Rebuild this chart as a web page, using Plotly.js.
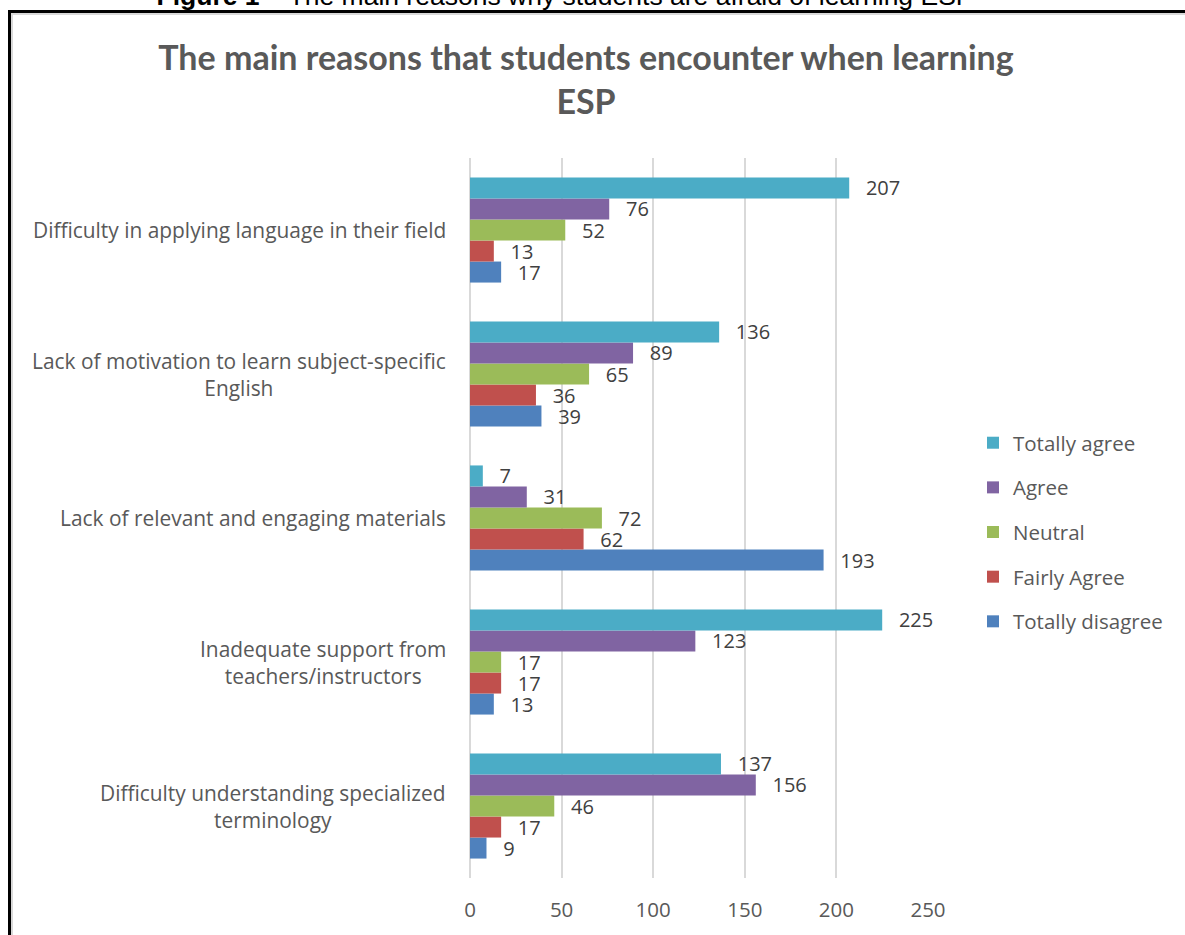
<!DOCTYPE html>
<html>
<head>
<meta charset="utf-8">
<script src="https://cdn.plot.ly/plotly-3.0.1.min.js"></script>
<style>
  html, body { margin:0; padding:0; background:#fff; overflow:hidden; }
  #caption { position:absolute; left:0; width:1130px; top:-17px; text-align:center;
             font-family:"Liberation Sans", Arial, sans-serif; font-size:26.5px; line-height:27px; color:#000; white-space:nowrap; }
  #frame { position:absolute; left:8px; top:10px; width:1300px; height:1100px;
           border-left:3px solid #000; border-top:3px solid #000; box-shadow: inset 2px 2px 0 #d9d9d9; }
  #chart { position:absolute; left:0; top:0; width:1185px; height:935px; }
</style>
</head>
<body>
<div id="caption"><b>Figure 1</b> – The main reasons why students are afraid of learning ESP</div>
<div id="frame"></div>
<div id="chart"></div>
<script>
// Categories, bottom to top
const categories = [
  "Difficulty understanding specialized<br>terminology",
  "Inadequate support from<br>teachers/instructors",
  "Lack of relevant and engaging materials",
  "Lack of motivation to learn subject-specific<br>English",
  "Difficulty in applying language in their field"
];
const seriesNames = ["Totally disagree", "Fairly Agree", "Neutral", "Agree", "Totally agree"];
const totallyDisagree = [9, 13, 193, 39, 17];
const fairlyAgree     = [17, 17, 62, 36, 13];
const neutral         = [46, 17, 72, 65, 52];
const agree           = [156, 123, 31, 89, 76];
const totallyAgree    = [137, 225, 7, 136, 207];
const xTicks = [0, 50, 100, 150, 200, 250];

const seriesValues = [totallyDisagree, fairlyAgree, neutral, agree, totallyAgree];
const colors = ["#4F81BD", "#C0504D", "#9BBB59", "#8064A2", "#4BACC6"];

const FONT = "'Open Sans', sans-serif";
const TFONT = "Lato, 'Open Sans', sans-serif";
const FS = 20.5;

const traces = seriesValues.map((vals, i) => ({
  type: "bar",
  orientation: "h",
  name: seriesNames[i],
  legendgroup: "g" + i,
  legendrank: 100 - i,
  x: vals,
  y: categories,
  marker: { color: colors[i], line: { width: 0 } },
  text: vals.map(v => "\u00a0\u00a0\u2009" + v),
  texttemplate: "%{text}",
  textposition: "outside",
  constraintext: "none",
  cliponaxis: false,
  textfont: { family: FONT, size: 20, color: "#404040" },
  hoverinfo: "x+name"
}));

const annotations = categories.map(c => ({
  xref: "paper", yref: "y", x: 0, y: c, xanchor: "right", yanchor: "middle",
  xshift: -22, text: c, showarrow: false, align: "center",
  font: { family: FONT, size: 20.9, color: "#595959" }
}));

const layout = {
  width: 1185, height: 935,
  margin: { l: 470, r: 257, t: 158, b: 57 },
  paper_bgcolor: "rgba(0,0,0,0)",
  plot_bgcolor: "rgba(0,0,0,0)",
  title: {
    text: "The main reasons that students encounter when learning<br>ESP",
    font: { family: TFONT, size: 34, color: "#595959", weight: "bold" },
    x: 586 / 1185, xref: "container", xanchor: "center",
    y: 1 - 70 / 935, yref: "container", yanchor: "top"
  },
  barmode: "group",
  bargap: 0.27,
  bargroupgap: 0,
  xaxis: {
    range: [0, 250], tickvals: xTicks, ticktext: xTicks.map(String),
    showgrid: true, gridcolor: "#D9D9D9", gridwidth: 2,
    zeroline: true, zerolinecolor: "#D9D9D9", zerolinewidth: 2,
    showline: false, ticks: "outside", ticklen: 13, tickcolor: "rgba(0,0,0,0)",
    tickfont: { family: FONT, size: FS, color: "#595959" },
    fixedrange: true
  },
  yaxis: {
    type: "category", categoryorder: "array", categoryarray: categories,
    showticklabels: false, showgrid: false, zeroline: false, showline: false, ticks: "",
    fixedrange: true
  },
  legend: {
    traceorder: "grouped", tracegroupgap: 15,
    xref: "container", x: 973 / 1185, xanchor: "left",
    y: 0.480, yanchor: "middle",
    font: { family: FONT, size: FS, color: "#595959" },
    itemwidth: 30, bgcolor: "rgba(0,0,0,0)"
  },
  annotations: annotations,
  showlegend: true
};

Plotly.newPlot("chart", traces, layout, { displayModeBar: false, staticPlot: true });
</script>
</body>
</html>
